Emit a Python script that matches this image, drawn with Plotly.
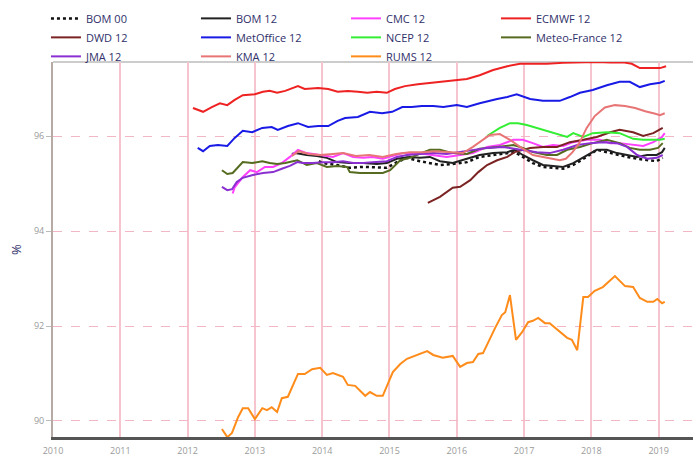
import plotly.graph_objects as go

# Monthly verification scores (%) per centre, x in decimal years
bom00_year = [2013.95, 2014.01, 2014.22, 2014.41, 2014.61, 2014.81, 2014.96, 2015.11, 2015.26, 2015.45,
              2015.60, 2015.75, 2015.94, 2016.15, 2016.34, 2016.54, 2016.75, 2016.86, 2016.98, 2017.13,
              2017.28, 2017.43, 2017.58, 2017.73, 2017.93, 2018.08, 2018.23, 2018.38, 2018.53, 2018.68,
              2018.83, 2018.97, 2019.06]
bom00_pct = [95.47, 95.43, 95.39, 95.33, 95.35, 95.33, 95.33, 95.45, 95.54, 95.47,
             95.43, 95.39, 95.41, 95.45, 95.56, 95.60, 95.64, 95.66, 95.56, 95.43,
             95.35, 95.33, 95.31, 95.39, 95.56, 95.71, 95.66, 95.60, 95.56, 95.52,
             95.49, 95.47, 95.54]

bom12_year = [2013.55, 2013.60, 2013.77, 2013.92, 2014.07, 2014.22, 2014.41, 2014.61, 2014.81, 2014.96,
              2015.11, 2015.30, 2015.45, 2015.60, 2015.75, 2015.94, 2016.15, 2016.34, 2016.54, 2016.75,
              2016.86, 2016.98, 2017.13, 2017.28, 2017.43, 2017.58, 2017.73, 2017.93, 2018.08, 2018.23,
              2018.38, 2018.53, 2018.68, 2018.83, 2018.97, 2019.05, 2019.09]
bom12_pct = [95.62, 95.64, 95.60, 95.58, 95.54, 95.45, 95.43, 95.43, 95.41, 95.43,
             95.52, 95.56, 95.54, 95.56, 95.47, 95.43, 95.52, 95.60, 95.64, 95.66,
             95.71, 95.60, 95.49, 95.39, 95.37, 95.35, 95.43, 95.60, 95.71, 95.71,
             95.64, 95.60, 95.56, 95.60, 95.60, 95.66, 95.75]

cmc_year = [2012.67, 2012.70, 2012.81, 2012.93, 2013.03, 2013.15, 2013.27, 2013.40, 2013.52, 2013.64,
            2013.77, 2013.97, 2014.16, 2014.31, 2014.46, 2014.61, 2014.75, 2014.90, 2015.05, 2015.20,
            2015.41, 2015.65, 2015.85, 2016.05, 2016.24, 2016.45, 2016.64, 2016.84, 2016.98, 2017.13,
            2017.28, 2017.43, 2017.58, 2017.73, 2017.93, 2018.13, 2018.28, 2018.42, 2018.62, 2018.77,
            2018.92, 2019.05, 2019.09]
cmc_pct = [94.79, 94.92, 95.12, 95.28, 95.24, 95.35, 95.35, 95.43, 95.56, 95.71,
           95.64, 95.60, 95.56, 95.64, 95.56, 95.54, 95.56, 95.52, 95.58, 95.64,
           95.64, 95.60, 95.56, 95.60, 95.64, 95.77, 95.81, 95.92, 95.92, 95.85,
           95.77, 95.81, 95.79, 95.87, 95.92, 95.92, 95.85, 95.85, 95.81, 95.79,
           95.87, 95.98, 96.06]

ecmwf_year = [2012.08, 2012.23, 2012.36, 2012.48, 2012.59, 2012.70, 2012.82, 2013.00, 2013.12, 2013.22,
              2013.33, 2013.45, 2013.64, 2013.74, 2013.94, 2014.09, 2014.23, 2014.38, 2014.53, 2014.67,
              2014.81, 2014.96, 2015.08, 2015.23, 2015.42, 2015.60, 2015.80, 2015.97, 2016.15, 2016.34,
              2016.54, 2016.75, 2016.94, 2017.13, 2017.34, 2017.58, 2017.73, 2017.93, 2018.08, 2018.28,
              2018.47, 2018.60, 2018.72, 2018.87, 2019.02, 2019.11]
ecmwf_pct = [96.59, 96.51, 96.61, 96.69, 96.65, 96.76, 96.86, 96.88, 96.93, 96.95,
             96.91, 96.95, 97.05, 96.99, 97.01, 96.99, 96.93, 96.95, 96.93, 96.91,
             96.93, 96.91, 96.99, 97.05, 97.09, 97.12, 97.14, 97.18, 97.20, 97.28,
             97.39, 97.47, 97.52, 97.52, 97.52, 97.54, 97.55, 97.55, 97.56, 97.55,
             97.55, 97.52, 97.43, 97.43, 97.43, 97.47]

dwd_year = [2015.57, 2015.75, 2015.94, 2016.05, 2016.20, 2016.32, 2016.45, 2016.60, 2016.75, 2016.86,
            2017.09, 2017.28, 2017.49, 2017.68, 2017.88, 2018.08, 2018.28, 2018.42, 2018.62, 2018.77,
            2018.92, 2019.06]
dwd_pct = [94.59, 94.72, 94.91, 94.93, 95.07, 95.24, 95.39, 95.49, 95.56, 95.66,
           95.75, 95.77, 95.77, 95.87, 95.92, 95.98, 96.08, 96.13, 96.08, 96.00,
           96.06, 96.17]

metoffice_year = [2012.15, 2012.23, 2012.33, 2012.45, 2012.59, 2012.70, 2012.82, 2012.96, 2013.11, 2013.25,
                  2013.34, 2013.49, 2013.64, 2013.79, 2013.94, 2014.09, 2014.23, 2014.34, 2014.53, 2014.71,
                  2014.89, 2015.04, 2015.19, 2015.33, 2015.48, 2015.65, 2015.80, 2016.00, 2016.15, 2016.34,
                  2016.60, 2016.75, 2016.89, 2017.09, 2017.28, 2017.53, 2017.68, 2017.83, 2018.02, 2018.23,
                  2018.42, 2018.57, 2018.72, 2018.87, 2019.02, 2019.09]
metoffice_pct = [95.75, 95.68, 95.79, 95.81, 95.79, 95.96, 96.11, 96.08, 96.17, 96.19,
                 96.13, 96.21, 96.27, 96.19, 96.21, 96.21, 96.32, 96.38, 96.40, 96.51,
                 96.48, 96.51, 96.61, 96.61, 96.63, 96.63, 96.61, 96.65, 96.61, 96.69,
                 96.78, 96.82, 96.88, 96.78, 96.74, 96.74, 96.82, 96.91, 96.97, 97.07,
                 97.14, 97.14, 97.03, 97.09, 97.12, 97.16]

ncep_year = [2016.45, 2016.64, 2016.79, 2016.91, 2017.04, 2017.24, 2017.43, 2017.64, 2017.73, 2017.88,
             2018.02, 2018.23, 2018.42, 2018.62, 2018.77, 2018.92, 2019.02, 2019.09]
ncep_pct = [96.00, 96.17, 96.27, 96.27, 96.23, 96.15, 96.08, 95.98, 96.06, 95.98,
            96.06, 96.08, 96.06, 95.94, 95.92, 95.92, 95.92, 95.94]

meteofrance_year = [2012.51, 2012.59, 2012.67, 2012.82, 2012.96, 2013.11, 2013.22, 2013.33, 2013.45, 2013.63,
                    2013.77, 2013.92, 2014.07, 2014.22, 2014.37, 2014.41, 2014.56, 2014.67, 2014.81, 2014.90,
                    2015.01, 2015.16, 2015.30, 2015.45, 2015.60, 2015.75, 2015.94, 2016.15, 2016.34, 2016.60,
                    2016.84, 2016.98, 2017.13, 2017.34, 2017.49, 2017.64, 2017.83, 2018.02, 2018.23, 2018.42,
                    2018.57, 2018.72, 2018.87, 2018.99, 2019.06]
meteofrance_pct = [95.28, 95.20, 95.22, 95.45, 95.43, 95.47, 95.43, 95.41, 95.43, 95.49,
                   95.39, 95.43, 95.35, 95.37, 95.35, 95.24, 95.22, 95.22, 95.22, 95.22,
                   95.28, 95.49, 95.54, 95.62, 95.71, 95.71, 95.64, 95.62, 95.73, 95.77,
                   95.81, 95.75, 95.66, 95.60, 95.60, 95.71, 95.77, 95.85, 95.92, 95.85,
                   95.75, 95.71, 95.71, 95.75, 95.85]

jma_year = [2012.51, 2012.59, 2012.66, 2012.73, 2012.82, 2012.97, 2013.12, 2013.27, 2013.40, 2013.52,
            2013.63, 2013.71, 2013.86, 2014.01, 2014.16, 2014.31, 2014.46, 2014.61, 2014.75, 2014.96,
            2015.11, 2015.26, 2015.45, 2015.65, 2015.85, 2015.94, 2016.20, 2016.45, 2016.69, 2016.94,
            2017.19, 2017.38, 2017.58, 2017.79, 2017.98, 2018.17, 2018.38, 2018.53, 2018.68, 2018.83,
            2018.97, 2019.06]
jma_pct = [94.93, 94.86, 94.88, 95.03, 95.12, 95.18, 95.22, 95.24, 95.31, 95.37,
           95.45, 95.43, 95.43, 95.45, 95.45, 95.47, 95.43, 95.43, 95.45, 95.47,
           95.56, 95.60, 95.62, 95.64, 95.62, 95.64, 95.71, 95.75, 95.77, 95.71,
           95.66, 95.64, 95.71, 95.81, 95.85, 95.87, 95.85, 95.77, 95.60, 95.52,
           95.54, 95.60]

kma_year = [2013.55, 2013.65, 2013.80, 2013.97, 2014.16, 2014.31, 2014.50, 2014.70, 2014.90, 2015.10,
            2015.30, 2015.50, 2015.68, 2015.85, 2016.00, 2016.09, 2016.24, 2016.49, 2016.64, 2016.79,
            2016.94, 2017.13, 2017.34, 2017.53, 2017.62, 2017.72, 2017.82, 2017.93, 2018.05, 2018.20,
            2018.35, 2018.50, 2018.65, 2018.80, 2018.95, 2019.02, 2019.09]
kma_pct = [95.58, 95.68, 95.62, 95.60, 95.62, 95.64, 95.58, 95.60, 95.56, 95.62,
           95.66, 95.66, 95.68, 95.66, 95.64, 95.64, 95.77, 96.02, 96.04, 95.92,
           95.77, 95.60, 95.54, 95.49, 95.52, 95.66, 95.85, 96.17, 96.42, 96.60,
           96.65, 96.63, 96.59, 96.52, 96.47, 96.44, 96.48]

rums_year = [2012.51, 2012.59, 2012.66, 2012.75, 2012.82, 2012.90, 2013.00, 2013.11, 2013.18, 2013.25,
             2013.33, 2013.40, 2013.49, 2013.64, 2013.74, 2013.85, 2013.97, 2014.07, 2014.16, 2014.31,
             2014.38, 2014.49, 2014.64, 2014.71, 2014.81, 2014.90, 2015.05, 2015.16, 2015.26, 2015.41,
             2015.56, 2015.65, 2015.79, 2015.94, 2016.05, 2016.15, 2016.24, 2016.32, 2016.39, 2016.57,
             2016.67, 2016.72, 2016.79, 2016.88, 2016.97, 2017.06, 2017.13, 2017.21, 2017.31, 2017.38,
             2017.64, 2017.71, 2017.79, 2017.88, 2017.95, 2018.05, 2018.17, 2018.35, 2018.50, 2018.62,
             2018.72, 2018.83, 2018.92, 2018.98, 2019.05, 2019.09]
rums_pct = [89.83, 89.66, 89.75, 90.08, 90.27, 90.27, 90.04, 90.27, 90.23, 90.29,
            90.19, 90.48, 90.51, 90.99, 90.99, 91.09, 91.12, 90.97, 91.01, 90.93,
            90.76, 90.74, 90.53, 90.61, 90.53, 90.53, 91.03, 91.20, 91.31, 91.39,
            91.47, 91.39, 91.33, 91.37, 91.14, 91.22, 91.24, 91.41, 91.43, 91.96,
            92.23, 92.29, 92.65, 91.71, 91.87, 92.08, 92.11, 92.17, 92.06, 92.06,
            91.75, 91.71, 91.49, 92.61, 92.61, 92.74, 92.82, 93.05, 92.84, 92.82,
            92.59, 92.51, 92.51, 92.57, 92.48, 92.51]

year_ticks = [2010, 2011, 2012, 2013, 2014, 2015, 2016, 2017, 2018, 2019]
pct_ticks = [90, 92, 94, 96]

series = [
    ("BOM 00", bom00_year, bom00_pct, "#111111", "dot", 2.5),
    ("BOM 12", bom12_year, bom12_pct, "#222222", "solid", 2),
    ("CMC 12", cmc_year, cmc_pct, "#ff40ff", "solid", 2),
    ("ECMWF 12", ecmwf_year, ecmwf_pct, "#ee2222", "solid", 2),
    ("DWD 12", dwd_year, dwd_pct, "#7b2323", "solid", 2),
    ("MetOffice 12", metoffice_year, metoffice_pct, "#1a1ae6", "solid", 2),
    ("NCEP 12", ncep_year, ncep_pct, "#33ee33", "solid", 2),
    ("Meteo-France 12", meteofrance_year, meteofrance_pct, "#556b1f", "solid", 2),
    ("JMA 12", jma_year, jma_pct, "#8a2fd0", "solid", 2),
    ("KMA 12", kma_year, kma_pct, "#e87575", "solid", 2),
    ("RUMS 12", rums_year, rums_pct, "#ff8c1a", "solid", 2),
]

fig = go.Figure()
for name, xs, ys, color, dash, width in series:
    fig.add_trace(go.Scatter(
        x=xs, y=ys, name=name, mode="lines",
        line=dict(color=color, width=width, dash=dash),
    ))

fig.update_layout(
    width=693, height=457,
    margin=dict(l=53, r=0, t=62, b=20, pad=0),
    paper_bgcolor="white", plot_bgcolor="white",
    font=dict(family="Open Sans", color="#30306a", size=11),
    showlegend=True,
    legend=dict(
        orientation="h", x=-0.011, y=1.155, xanchor="left", yanchor="top",
        entrywidth=105, traceorder="normal",
        font=dict(size=11, color="#30306a"),
        bgcolor="rgba(0,0,0,0)",
    ),
    xaxis=dict(
        range=[2010, 2019.51], tickvals=year_ticks,
        ticktext=[str(y) for y in year_ticks],
        showgrid=True, gridcolor="#f5c4ce", gridwidth=1.5,
        showline=True, linecolor="#555555", linewidth=3,
        zeroline=False, ticks="outside", ticklen=3, tickcolor="rgba(0,0,0,0)",
        tickfont=dict(size=9, color="#9a9a9a"),
    ),
    yaxis=dict(
        range=[89.663, 97.558], tickvals=pct_ticks,
        showgrid=True, gridcolor="#f3b6c4", gridwidth=1, griddash="dash",
        showline=True, linecolor="#b5aaa4", linewidth=2,
        zeroline=False, ticks="outside", ticklen=5, tickcolor="#bbbbbb",
        tickfont=dict(size=9, color="#9a9a9a"),
        title=dict(text="%", font=dict(size=13, color="#30306a"), standoff=9),
    ),
    shapes=[dict(type="line", xref="paper", yref="paper", x0=0, x1=1, y0=1, y1=1,
                 line=dict(color="#cccccc", width=2), layer="below")],
)

fig.write_html("out.html")
